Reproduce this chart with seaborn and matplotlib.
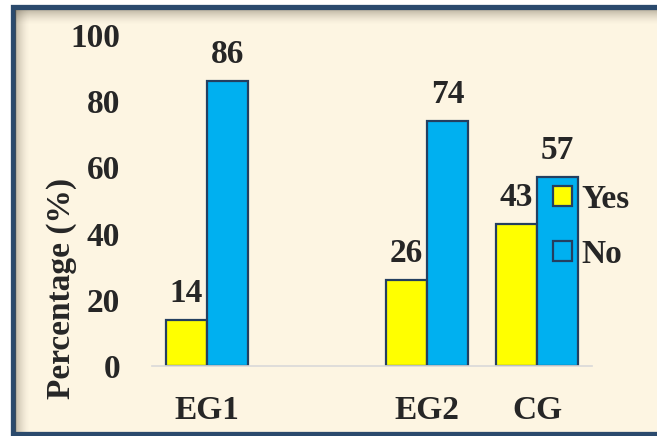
import matplotlib.pyplot as plt
import numpy as np
import pandas as pd
import seaborn as sns
from matplotlib.patches import Rectangle

# ---------------------------------------------------------------------------
# Data
# ---------------------------------------------------------------------------
groups = ["EG1", "", "EG2", "CG"]          # blank slot between EG1 and EG2
answers = ["Yes", "No"]
data_groups = ["EG1", "EG2", "CG"]
yes_pct = [14, 26, 43]
no_pct = [86, 74, 57]
y_ticks = [0, 20, 40, 60, 80, 100]

df = pd.DataFrame({
    "group": data_groups * 2,
    "answer": ["Yes"] * 3 + ["No"] * 3,
    "pct": yes_pct + no_pct,
})

# ---------------------------------------------------------------------------
# Style
# ---------------------------------------------------------------------------
W, H = 657, 436
cream = "#fdf5e2"
navy = "#2b4a6d"
edge = "#243f60"
colors = ["#ffff00", "#00b0f0"]

sns.set_theme(style="white")
plt.rcParams["font.family"] = ["Liberation Serif", "DejaVu Serif"]
plt.rcParams["font.weight"] = "bold"
fs = 24

fig = plt.figure(figsize=(W / 100, H / 100), dpi=100, facecolor="white")

# frame + cream panel
fig.add_artist(Rectangle((12.5 / W, 2 / H), 1, 1 - 9.5 / H, transform=fig.transFigure,
                         facecolor=cream, edgecolor=navy, linewidth=3.8, zorder=0))
# inner shadow along top and left edges
for i in range(14):
    a = 0.35 * (1 - i / 14) ** 1.5
    fig.add_artist(Rectangle((15 / W, (H - 10 - i - 1) / H), 1, 1 / H,
                             transform=fig.transFigure, facecolor="#5a5040",
                             edgecolor="none", alpha=a, zorder=0.5))
    fig.add_artist(Rectangle(((15 + i) / W, 4 / H), 1 / W, (H - 14) / H,
                             transform=fig.transFigure, facecolor="#5a5040",
                             edgecolor="none", alpha=a, zorder=0.5))

ax = fig.add_axes([152 / W, (H - 366) / H, 440 / W, 331 / H])
ax.patch.set_visible(False)

sns.barplot(data=df, x="group", y="pct", hue="answer", order=groups,
            hue_order=answers, palette=colors, width=0.75,
            edgecolor=edge, linewidth=1.6, saturation=1, ax=ax)

for c in ax.containers:
    ax.bar_label(c, fmt="%d", padding=8, fontsize=fs, fontweight="bold")

ax.set_ylim(0, 100)
ax.set_xlim(-0.5, 3.5)
ax.set_yticks(y_ticks)
ax.tick_params(axis="y", length=0, pad=23, labelsize=fs)
ax.tick_params(axis="x", length=0, pad=21, labelsize=fs)
for lab in ax.get_xticklabels() + ax.get_yticklabels():
    lab.set_fontweight("bold")

ax.set_xlabel("")
ax.set_ylabel("Percentage (%)", fontsize=fs, fontweight="bold")
ax.yaxis.set_label_coords(-0.17, 0.233)

for s in ["top", "right", "left"]:
    ax.spines[s].set_visible(False)
ax.spines["bottom"].set_color("#d9d9d9")
ax.spines["bottom"].set_linewidth(1.2)

handles, labels = ax.get_legend_handles_labels()
ax.legend(handles, labels, loc="upper left", bbox_to_anchor=(0.912, 0.55),
          frameon=False, handlelength=0.55, handleheight=0.55,
          handletextpad=0.3, labelspacing=0.72, borderpad=0, borderaxespad=0,
          prop={"weight": "bold", "size": fs})

fig.savefig("out.png", dpi=100, facecolor=fig.get_facecolor())
